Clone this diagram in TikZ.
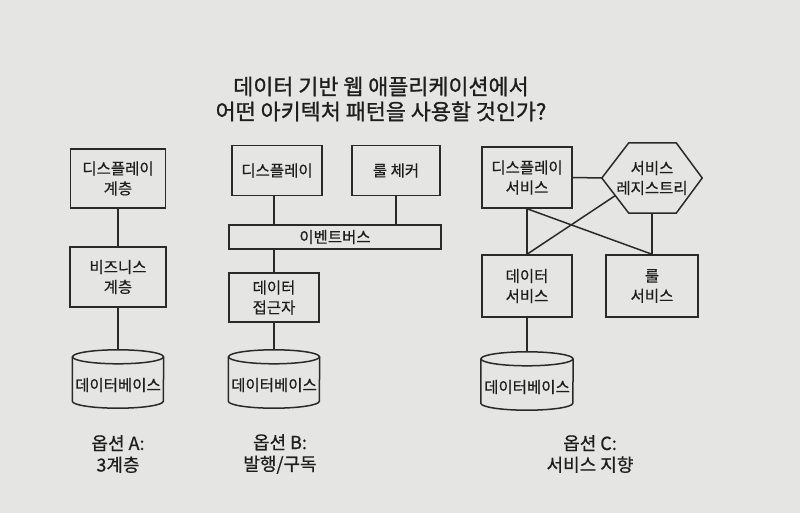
\documentclass[tikz,border=0pt]{standalone}
\usepackage{fontspec}
\setmainfont{Noto Sans CJK KR}[FakeBold=0.6]
\newfontfamily\titlefont{Noto Sans CJK KR}[FakeBold=1.1]
\usetikzlibrary{positioning, calc}
\definecolor{paper}{HTML}{E5E5E3}
\definecolor{ink}{HTML}{1E1E1E}
\definecolor{wirec}{HTML}{2A2A2A}
\newcommand{\TitleF}{\titlefont\fontsize{21.8}{25}\selectfont}
\newcommand{\BoxF}{\fontsize{15.5}{20}\selectfont}
\newcommand{\CapF}{\fontsize{18}{21.5}\selectfont}
\tikzset{
  blk/.style={draw=wirec, line width=1.5pt, text=ink, font=\BoxF, align=center, inner sep=2pt},
  wire/.style={draw=wirec, line width=1.5pt},
  captxt/.style={text=ink, font=\CapF, align=center},
}
\newcommand{\dbcyl}[4]{%
  \node[minimum width=2*#4, minimum height=58, inner sep=0pt] (#1) at (#2,#3+29) {};
  \node[font=\BoxF, text=ink] (#1-lbl) at (#2,#3+35) {데이터베이스};
  \draw[wire] ($(#1.north west)+(0,7)$) -- ($(#1.south west)+(0,-7)$)
    arc[start angle=180, end angle=360, x radius=#4pt, y radius=7pt] -- ($(#1.north east)+(0,7)$);
  \draw[wire] ($(#1.north)+(0,7)$) ellipse[x radius=#4pt, y radius=7pt];
}
\newcommand{\optcap}[4]{%
  \node[captxt] (#1) at (#2,454) {#3\\#4};
}

\begin{document}
\begin{tikzpicture}[x=1pt,y=-1pt]
\fill[paper] (0,0) rectangle (800,513);
\useasboundingbox (0,0) rectangle (800,513);

\node[text=ink, font=\TitleF, align=center] (title) at (381,99) {데이터 기반 웹 애플리케이션에서\\어떤 아키텍처 패턴을 사용할 것인가?};

% option A
\node[blk, minimum width=95, minimum height=59] (dispA) at (118,178.5) {디스플레이\\계층};
\node[blk, minimum width=96, minimum height=60] (bizA) at (118,277) {비즈니스\\계층};
\dbcyl{dbA}{118}{350}{45.5}
\draw[wire] (dispA.south) -- (bizA.north);
\draw[wire] (bizA.south) -- (dbA.north);
\optcap{capA}{118}{옵션 A:}{3계층}

% option B
\node[blk, minimum width=90, minimum height=50] (dispB) at (277,170.5) {디스플레이};
\node[blk, minimum width=88, minimum height=50] (ruleB) at (396,170.5) {룰 체커};
\node[blk, minimum width=212, minimum height=24] (busB) at (335,237) {이벤트버스};
\node[blk, minimum width=90, minimum height=49] (accB) at (274,297.5) {데이터\\접근자};
\dbcyl{dbB}{274}{350}{45.5}
\draw[wire] (accB.north |- dispB.south) -- (accB.north |- busB.north);
\draw[wire] (ruleB.south) -- (ruleB.south |- busB.north);
\draw[wire] (accB.north |- busB.south) -- (accB.north);
\draw[wire] (accB.south) -- (dbB.north);
\optcap{capB}{280}{옵션 B:}{발행/구독}

% option C
\node[blk, minimum width=90, minimum height=61] (dispC) at (527,177.5) {디스플레이\\서비스};
\node[text=ink, font=\BoxF, align=center, minimum width=100, minimum height=70, inner sep=0pt] (hexC) at (652,178) {서비스\\레지스트리};
\coordinate (hexTL) at ($(hexC.north west)+(27,0)$);
\coordinate (hexTR) at ($(hexC.north east)+(-26,0)$);
\coordinate (hexBR) at ($(hexC.south east)+(-26,0)$);
\coordinate (hexBL) at ($(hexC.south west)+(27,0)$);
\draw[wire] (hexC.west) -- (hexTL) -- (hexTR) -- (hexC.east) -- (hexBR) -- (hexBL) -- cycle;
\coordinate (hexEdge) at ($(hexC.west)!0.5!(hexBL)$);
\node[blk, minimum width=90, minimum height=62] (dataC) at (527,286) {데이터\\서비스};
\node[blk, minimum width=92, minimum height=62] (ruleC) at (652,286) {룰\\서비스};
\dbcyl{dbC}{527}{352}{46}
\draw[wire] (dispC.east) -- (hexC.west);
\draw[wire] (dispC.south) -- (dataC.north);
\draw[wire] (dispC.south) -- (ruleC.north);
\draw[wire] (hexEdge) -- (dataC.north);
\draw[wire] (hexC.south) -- (ruleC.north);
\draw[wire] (dataC.south) -- (dbC.north);
\optcap{capC}{590}{옵션 C:}{서비스 지향}
\end{tikzpicture}
\end{document}
